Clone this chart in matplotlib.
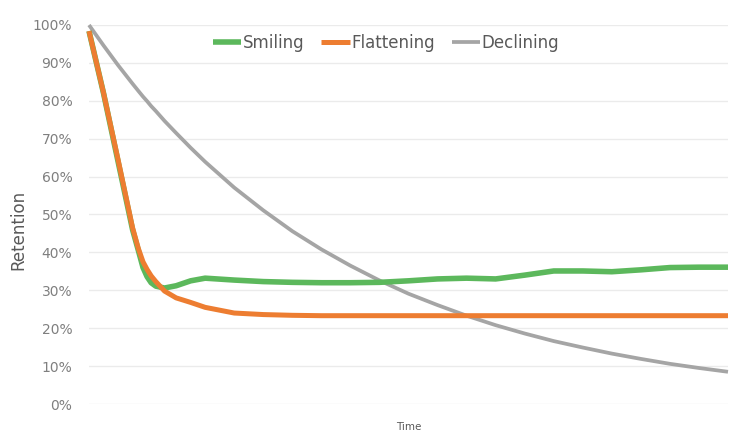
import matplotlib
matplotlib.use("Agg")
import matplotlib.pyplot as plt
from matplotlib.ticker import FuncFormatter

# Time points (arbitrary units)
time = [0, 0.25, 0.5, 0.75, 0.85, 0.93, 1.0, 1.07, 1.15, 1.3, 1.5, 1.75, 2.0, 2.5, 3.0, 3.5,
        4.0, 4.5, 5.0, 5.5, 6.0, 6.5, 7.0, 7.5, 8.0, 8.5, 9.0, 9.5, 10.0, 10.5, 11.0]

smiling = [98.4, 82.0, 64.0, 46.0, 40.5, 36.0, 33.6, 32.0, 31.1, 30.6, 31.2, 32.5, 33.2, 32.7, 32.3, 32.1,
           32.0, 32.0, 32.1, 32.5, 33.0, 33.2, 33.0, 34.0, 35.1, 35.1, 34.9, 35.4, 36.0, 36.1, 36.1]

flattening = [98.4, 82.1, 64.5, 46.5, 41.0, 37.5, 35.5, 33.8, 32.3, 29.8, 28.0, 26.8, 25.5, 24.0, 23.6, 23.4,
              23.3, 23.3, 23.3, 23.3, 23.3, 23.3, 23.3, 23.3, 23.3, 23.3, 23.3, 23.3, 23.3, 23.3, 23.3]

declining = [100.0, 94.6, 89.4, 84.5, 82.6, 81.1, 79.9, 78.6, 77.3, 74.7, 71.5, 67.6, 63.9, 57.1, 51.1, 45.6,
             40.8, 36.5, 32.6, 29.1, 26.1, 23.3, 20.8, 18.6, 16.6, 14.9, 13.3, 11.9, 10.6, 9.5, 8.5]

y_ticks = [0, 10, 20, 30, 40, 50, 60, 70, 80, 90, 100]

fig = plt.figure(figsize=(7.43, 4.36), dpi=100)
ax = fig.add_axes([89 / 743, 1 - 404 / 436, (728 - 89) / 743, (404 - 25) / 436])

ax.plot(time, smiling, color="#5CB85C", lw=4.0, label="Smiling", clip_on=False,
        solid_capstyle="butt", solid_joinstyle="round", zorder=3)
ax.plot(time, flattening, color="#ED7D31", lw=3.6, label="Flattening", clip_on=False,
        solid_capstyle="butt", solid_joinstyle="round", zorder=4)
ax.plot(time, declining, color="#A5A5A5", lw=2.7, label="Declining", clip_on=False,
        solid_capstyle="butt", solid_joinstyle="round", zorder=2)

ax.set_xlim(0, 11)
ax.set_ylim(0, 100)
ax.set_yticks(y_ticks)
ax.yaxis.set_major_formatter(FuncFormatter(lambda v, p: f"{int(v)}%"))
ax.set_xticks([])
ax.tick_params(axis="y", length=0, pad=12, labelsize=10, labelcolor="#7F7F7F")
for s in ax.spines.values():
    s.set_visible(False)
ax.grid(axis="y", color="#EBEBEB", lw=1.0, zorder=0)
ax.set_axisbelow(True)

ax.set_ylabel("Retention", fontsize=12, color="#595959")
ax.yaxis.set_label_coords(-0.097, 0.46)
ax.set_xlabel("Time", fontsize=7.5, color="#595959", labelpad=13)

leg = ax.legend(loc="center", bbox_to_anchor=(0.465, 0.952), ncol=3, frameon=False,
                fontsize=12, handlelength=1.7, handletextpad=0.1, columnspacing=1.0,
                borderaxespad=0)
for t in leg.get_texts():
    t.set_color("#595959")

fig.savefig("out.png", dpi=100)
